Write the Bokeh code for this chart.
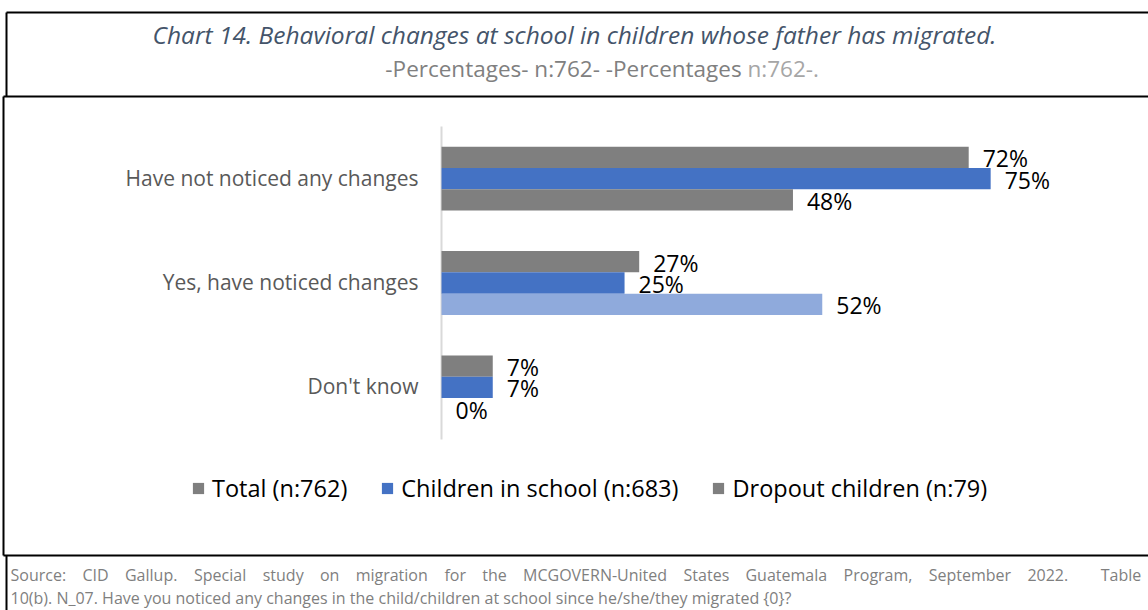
from bokeh.plotting import figure
from bokeh.models import (Range1d, ColumnDataSource, Label, Legend, LegendItem)
from bokeh.transform import dodge
from bokeh.embed import file_html
from bokeh.resources import INLINE
from bokeh.core.properties import value

# ---------------- data ----------------
categories = ["Have not noticed any changes", "Yes, have noticed changes", "Don't know"]
series_names = ["Total (n:762)", "Children in school (n:683)", "Dropout children (n:79)"]
total = [72, 27, 7]
in_school = [75, 25, 7]
dropout = [48, 52, 0]

title_text = "Chart 14. Behavioral changes at school in children whose father has migrated."
subtitle_main = "-Percentages- n:762- -Percentages "
subtitle_tail = "n:762-."
source_line1 = ("Source: CID Gallup. Special study on migration for the MCGOVERN-United States "
                "Guatemala Program, September 2022.  Table")
source_line2 = ("10(b). N_07. Have you noticed any changes in the child/children at school "
                "since he/she/they migrated {0}?")

# ---------------- styles / layout ----------------
W, H = 1148, 610
FL, FR, FT, FB = 441, 1100, 126, 439      # plot area edges in page pixels
X_MAX = 90
N = len(categories)
PPX = (FR - FL) / X_MAX                   # pixels per percent
BAND = (FB - FT) / N                      # pixels per category
BAR_H = 0.204
GRAY = "#7f7f7f"
BLUE = "#4472c4"
LIGHT_BLUE = "#8faadc"
series_colors = [GRAY, BLUE, [GRAY, LIGHT_BLUE, LIGHT_BLUE]]
offsets = [BAR_H, 0.0, -BAR_H]
FONT = "Open Sans"

ypos = [N - 1 - i for i in range(N)]      # first category on top

p = figure(width=W, height=H,
           x_range=Range1d(-FL / PPX, (W - FL) / PPX),
           y_range=Range1d((FB - H) / BAND - 0.5, FB / BAND - 0.5),
           x_axis_location=None, y_axis_location=None,
           output_backend="svg", toolbar_location=None, title=None,
           min_border=0, min_border_left=0, min_border_right=0,
           min_border_top=0, min_border_bottom=0)
p.extra_x_ranges = {"px": Range1d(0, W)}
p.extra_y_ranges = {"py": Range1d(H, 0)}
p.outline_line_color = None
p.grid.visible = False
p.background_fill_color = "white"
p.border_fill_color = "white"

# ---------------- frame lines (page pixels) ----------------
frame_lines = dict(
    x0=[6, 6, 3, 3, 3, 6],
    y0=[12, 12, 96, 96, 555, 555],
    x1=[6, 1160, 1160, 3, 1160, 6],
    y1=[96, 12, 96, 555, 555, 640],
)
p.segment(x0="x0", y0="y0", x1="x1", y1="y1", source=ColumnDataSource(frame_lines),
          x_range_name="px", y_range_name="py", line_color="black", line_width=2)

# ---------------- category axis ----------------
cat_src = ColumnDataSource({"cat": categories, "y": ypos})
p.segment(x0=0, x1=0, y0=-0.5, y1=N - 0.5, line_color="#d9d9d9", line_width=2)
p.text(x=0, y="y", text="cat", source=cat_src, x_offset=-23, y_offset=-1,
       text_align="right", text_baseline="middle",
       text_font=value(FONT), text_font_size="21px", text_color="#595959")

# ---------------- bars + labels ----------------
renderers = []
for vals, col, off in zip([total, in_school, dropout], series_colors, offsets):
    data = {"cat": categories, "y": ypos, "val": vals, "label": [f"{v}%" for v in vals]}
    if isinstance(col, list):
        data["color"] = col
        fill = "color"
    else:
        fill = col
    src = ColumnDataSource(data)
    r = p.hbar(y=dodge("y", off), left=0, right="val", height=BAR_H,
               fill_color=fill, line_color=None, source=src)
    renderers.append(r)
    p.text(x="val", y=dodge("y", off), text="label", source=src,
           x_offset=14, y_offset=1, text_align="left", text_baseline="middle",
           text_font=value(FONT), text_font_size="23px", text_color="#000000")

legend = Legend(items=[LegendItem(label=value(n), renderers=[r], index=0)
                       for n, r in zip(series_names, renderers)],
                orientation="horizontal", location=(191, H - 504),
                glyph_width=14, glyph_height=14, label_height=24, label_standoff=7,
                spacing=33, padding=0, margin=0,
                label_text_font=FONT, label_text_font_size="23.5px",
                label_text_color="#000000",
                border_line_color=None, background_fill_alpha=0)
p.add_layout(legend)


def add_label(x, y, text, **kw):
    p.add_layout(Label(x=x, y=y, x_range_name="px", y_range_name="py", text=text,
                       text_baseline="middle", text_font=FONT, **kw))


# ---------------- texts ----------------
add_label(574, 34, title_text, text_align="center", text_font_style="italic",
          text_font_size="24.5px", text_color="#44546a")
SPLIT = 747
add_label(SPLIT, 68, subtitle_main, text_align="right", text_font_size="22.5px",
          text_color="#808080")
add_label(SPLIT, 68, subtitle_tail, text_align="left", text_font_size="22.5px",
          text_color="#a6a6a6")

# source note: first line is justified between x=10 and x=1141 (as in the reference)
OPEN_SANS_EM = {
    **dict(zip("abcdefghijklmnopqrstuvwxyz",
               [.556, .613, .48, .613, .561, .336, .548, .614, .26, .26, .525, .26, .93,
                .614, .602, .613, .613, .41, .476, .355, .614, .5, .778, .52, .5, .468])),
    **dict(zip("ABCDEFGHIJKLMNOPQRSTUVWXYZ",
               [.633, .648, .631, .729, .556, .516, .728, .738, .279, .267, .614, .519, .903,
                .754, .779, .602, .779, .618, .549, .553, .728, .595, .925, .577, .56, .571])),
    **{d: .572 for d in "0123456789"},
    " ": .26, ".": .266, ",": .245, ":": .266, "-": .322, "(": .296, ")": .296,
}
SRC_SIZE = 16
src_style = dict(text_font_size=f"{SRC_SIZE}px", text_color="#7f7f7f", text_align="left")


def text_width(s):
    return sum(OPEN_SANS_EM.get(c, .55) for c in s) * SRC_SIZE


tokens = source_line1.split(" ")
n_spaces = len(tokens) - 1
natural = text_width(source_line1)
extra = (1141 - 10 - natural) / n_spaces
x = 10.0
for tok in tokens:
    if tok:
        add_label(x, 574, tok, **src_style)
        x += text_width(tok)
    x += text_width(" ") + extra
add_label(10, 597, source_line2, **src_style)

open("out.html", "w").write(file_html(p, INLINE))
